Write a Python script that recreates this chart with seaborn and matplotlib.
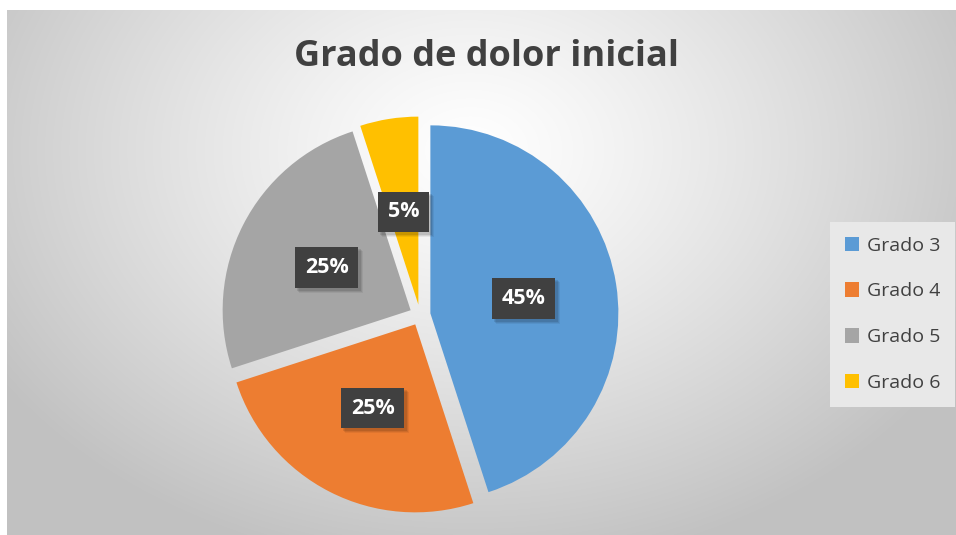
import numpy as np
import matplotlib.pyplot as plt
import seaborn as sns
from matplotlib.patches import Patch, Rectangle

# datos del gráfico
categorias = ['Grado 3', 'Grado 4', 'Grado 5', 'Grado 6']
porcentajes = [45, 25, 25, 5]
colores = ['#5B9BD5', '#ED7D31', '#A5A5A5', '#FFC000']
titulo = 'Grado de dolor inicial'

sns.set_style('white')
plt.rcParams['font.family'] = ['Open Sans', 'DejaVu Sans']

W, H = 956, 535
fig = plt.figure(figsize=(W / 100, H / 100), dpi=100)
ax = fig.add_axes([0, 0, 1, 1])

# fondo con degradado radial (estilo Excel)
yy, xx = np.mgrid[0:H, 0:W]
d = np.sqrt(((xx - 470) / 560) ** 2 + ((yy - 150) / 420) ** 2)
gris = 1 - 0.24 * np.clip(d, 0, 1) ** 1.2
fondo = np.dstack([gris] * 3)
fondo[:10, :] = 1
fondo[:, :7] = 1
ax.imshow(fondo, extent=(0, W, 0, H), origin='upper', zorder=0, interpolation='bilinear')

wedges, _, autotexts = ax.pie(
    porcentajes, colors=sns.color_palette(colores), startangle=90, counterclock=False,
    explode=[10.5] * 4, center=(420, H - 315), radius=188,
    autopct='%1.0f%%', pctdistance=0.5,
    textprops=dict(color='white', fontsize=15.5, fontweight='bold'),
    wedgeprops=dict(linewidth=0))

for t in autotexts:
    t.set_zorder(3)
    t.set_bbox(dict(boxstyle='square,pad=0.45', facecolor='#404040', edgecolor='none'))

ax.set_xlim(0, W)
ax.set_ylim(0, H)
ax.axis('off')

# sombra suave bajo cada caja de etiqueta
fig.canvas.draw()
inv = ax.transData.inverted()
for t in autotexts:
    bb = t.get_bbox_patch().get_window_extent()
    for k, a in [(5, 0.06), (4, 0.08), (3, 0.10)]:
        (x0, y0), (x1, y1) = inv.transform([(bb.x0 + k - 1, bb.y0 - k), (bb.x1 + k, bb.y1 - k + 1)])
        ax.add_patch(Rectangle((x0, y0), x1 - x0, y1 - y0, facecolor='black',
                               alpha=a, edgecolor='none', zorder=2))

fig.text(487 / W, 1 - 57 / H, titulo, ha='center', va='center',
         fontsize=26, fontweight='bold', color='#404040')

handles = [Patch(facecolor=c, edgecolor='none') for c in colores]
leg = ax.legend(handles, categorias, loc='upper left',
                bbox_to_anchor=(830 / W, 1 - 222 / H), bbox_transform=fig.transFigure,
                frameon=True, fancybox=False, fontsize=14, handlelength=0.75,
                handleheight=0.75, handletextpad=0.4, labelspacing=1.43,
                borderpad=0.75, borderaxespad=0)
leg.get_frame().set(facecolor='#e8e8e8', edgecolor='none', alpha=1)
for t in leg.get_texts():
    t.set_color('#404040')

fig.savefig('out.png', dpi=100)
